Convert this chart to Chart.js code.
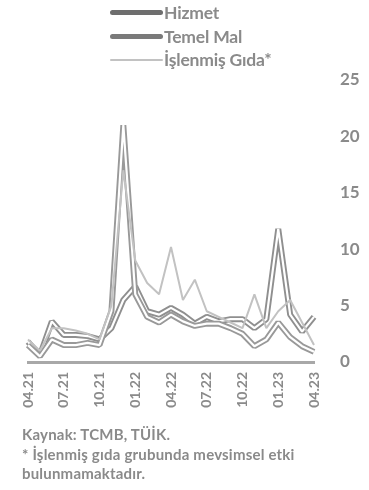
<!DOCTYPE html>
<html>
<head>
<meta charset="utf-8">
<script src="https://cdn.jsdelivr.net/npm/chart.js@4"></script>
<style>
  html, body { margin: 0; padding: 0; background: #fff; }
  body { width: 369px; height: 490px; position: relative; overflow: hidden; font-family: Lato, "Open Sans", sans-serif; }
  #wrap { position: absolute; left: 0; top: 0; width: 369px; height: 490px; }
  #legend { position: absolute; left: 110px; top: 1px; }
  .li { display: flex; align-items: center; height: 23.5px; color: #8a8a8a; font-weight: 700; font-size: 17.5px; letter-spacing: -0.2px; }
  .sw { width: 53px; margin-right: 1px; border-radius: 3px; }
  #note { position: absolute; left: 22px; top: 425px; color: #8a8a8a; font-weight: 700; font-size: 15px; line-height: 19.5px; letter-spacing: 0.2px; }
</style>
</head>
<body>
<div id="wrap"><canvas id="c" width="369" height="490"></canvas></div>
<div id="legend"></div>
<div id="note">Kaynak: TCMB, TÜİK.<br>* İşlenmiş gıda grubunda mevsimsel etki<br>bulunmamaktadır.</div>
<script>
const months = ["04.21","05.21","06.21","07.21","08.21","09.21","10.21","11.21","12.21","01.22","02.22","03.22","04.22","05.22","06.22","07.22","08.22","09.22","10.22","11.22","12.22","01.23","02.23","03.23","04.23"];
const tickLabels = ["04.21","07.21","10.21","01.22","04.22","07.22","10.22","01.23","04.23"];
const hizmet    = [1.8, 0.6, 3.6, 2.4, 2.4, 2.3, 2.0, 3.0, 5.5, 6.7, 4.5, 4.2, 4.8, 4.2, 3.4, 4.0, 3.6, 3.8, 3.8, 3.0, 3.8, 11.8, 4.2, 2.7, 4.0];
const temelMal  = [1.5, 0.5, 2.0, 1.5, 1.5, 1.7, 1.5, 4.5, 21.0, 6.0, 4.0, 3.5, 4.2, 3.6, 3.2, 3.4, 3.4, 3.0, 2.5, 1.4, 2.0, 3.5, 2.2, 1.4, 0.9];
const islenmis  = [2.0, 1.0, 3.0, 3.0, 2.8, 2.5, 2.0, 5.0, 17.0, 9.0, 7.0, 6.0, 10.2, 5.5, 7.3, 4.5, 4.0, 3.5, 3.0, 6.0, 3.0, 4.5, 5.5, 3.5, 1.5];
const yTicks = [0, 5, 10, 15, 20, 25];

const series = [
  { label: "Hizmet", data: hizmet, color: "#8f8f8f", legendColor: "#6e6e6e", width: 6, inner: 2.2 },
  { label: "Temel Mal", data: temelMal, color: "#999999", legendColor: "#7a7a7a", width: 6, inner: 2.2 },
  { label: "İşlenmiş Gıda*", data: islenmis, color: "#c2c2c2", legendColor: "#c2c2c2", width: 2, inner: 0 }
];

const datasets = [];
series.forEach((s, i) => {
  datasets.push({
    label: s.label, data: s.data, borderColor: s.color, backgroundColor: s.color,
    borderWidth: s.width, borderJoinStyle: "bevel", pointRadius: 0, tension: 0, fill: false, order: 10 - i * 3,
    legendColor: s.legendColor, isMain: true
  });
  if (s.inner > 0) {
    datasets.push({
      label: s.label + " (iç)", data: s.data, borderColor: "#ffffff", backgroundColor: "#ffffff",
      borderWidth: s.inner, borderJoinStyle: "bevel", pointRadius: 0, tension: 0, fill: false, order: 9 - i * 3, isMain: false
    });
  }
});

const chart = new Chart(document.getElementById("c"), {
  type: "line",
  data: { labels: months, datasets: datasets },
  options: {
    responsive: false, animation: false,
    layout: { padding: { top: 80, bottom: 74, left: 28, right: 0 } },
    plugins: { legend: { display: false }, tooltip: { enabled: false } },
    scales: {
      x: {
        offset: false,
        afterFit: ax => { ax.height = 54; },
        grid: { display: false, drawTicks: false },
        border: { display: true, color: "#a8a8a8", width: 3 },
        ticks: {
          autoSkip: false, minRotation: 90, maxRotation: 90, padding: 10,
          color: "#8a8a8a", font: { family: "Lato", weight: "bold", size: 14 },
          callback: function(v, i) { const l = months[i]; return tickLabels.includes(l) ? l : null; }
        }
      },
      y: {
        position: "right", min: 0, max: 25,
        afterFit: ax => { ax.width = 55; },
        afterBuildTicks: ax => { ax.ticks = yTicks.map(v => ({ value: v })); },
        grid: { display: false, drawTicks: false },
        border: { display: false },
        ticks: { padding: 26, color: "#8a8a8a", font: { family: "Lato", weight: "bold", size: 17 } }
      }
    }
  }
});

const leg = document.getElementById("legend");
chart.data.datasets.filter(ds => ds.isMain).forEach(ds => {
  const row = document.createElement("div"); row.className = "li";
  const sw = document.createElement("div"); sw.className = "sw";
  sw.style.height = (ds.borderWidth > 3 ? 5 : 2) + "px"; sw.style.background = ds.legendColor;
  const t = document.createElement("span"); t.textContent = ds.label;
  row.appendChild(sw); row.appendChild(t); leg.appendChild(row);
});
</script>
</body>
</html>
